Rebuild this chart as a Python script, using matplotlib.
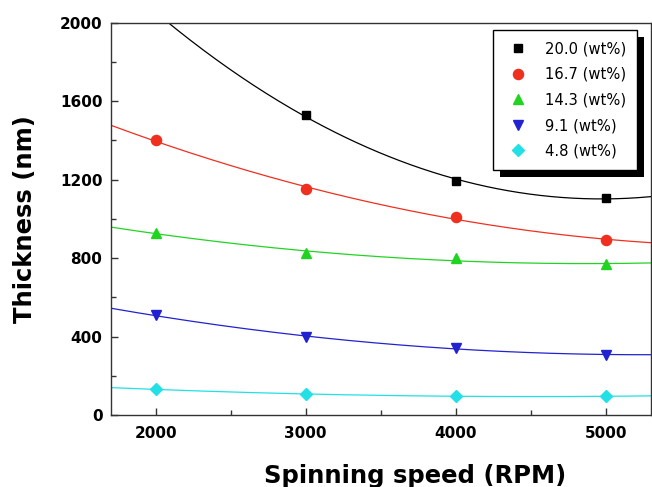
import numpy as np
import matplotlib
matplotlib.use('Agg')
import matplotlib.pyplot as plt
from matplotlib.patches import Rectangle
from matplotlib.ticker import MultipleLocator
from matplotlib.transforms import IdentityTransform

# spinning speed (RPM) and film thickness (nm) per concentration
speed = [2000, 3000, 4000, 5000]
labels = ['20.0 (wt%)', '16.7 (wt%)', '14.3 (wt%)', '9.1 (wt%)', '4.8 (wt%)']
thick_200 = [2050, 1530, 1194, 1105]   # first point lies above the top of the plot
thick_167 = [1400, 1151, 1011, 892]
thick_143 = [929, 824, 799, 768]
thick_91 = [508, 398, 342, 307]
thick_48 = [131, 106, 97, 95]

series = [thick_200, thick_167, thick_143, thick_91, thick_48]
colors = ['black', '#f0301f', '#22d422', '#2222d0', '#22e0e6']
markers = ['s', 'o', '^', 'v', 'D']
msizes = [6.3, 7.3, 7.3, 7.3, 6.3]

plt.rcParams['font.family'] = 'DejaVu Sans'

fig = plt.figure(figsize=(6.52, 4.87), dpi=100)
ax = fig.add_axes([0.1698, 0.1478, 0.8282, 0.8055])

# quadratic fit curve behind each set of points
x_fit = np.linspace(1700, 5300, 300)
for y, c in zip(series, colors):
    coef = np.polyfit(speed, y, 2)
    ax.plot(x_fit, np.polyval(coef, x_fit), color=c, lw=0.9, zorder=2)

for y, c, m, ms, lab in zip(series, colors, markers, msizes, labels):
    ax.plot(speed, y, ls='none', marker=m, ms=ms, color=c, label=lab, zorder=3)

ax.set_xlim(1700, 5300)
ax.set_ylim(0, 2000)
ax.xaxis.set_major_locator(MultipleLocator(1000))
ax.xaxis.set_minor_locator(MultipleLocator(500))
ax.yaxis.set_major_locator(MultipleLocator(400))
ax.yaxis.set_minor_locator(MultipleLocator(200))
ax.tick_params(which='both', direction='in', width=1, color='#333333')
ax.tick_params(which='major', length=5)
ax.tick_params(which='minor', length=3.5)
ax.tick_params(axis='x', pad=8)
ax.tick_params(axis='y', pad=6)
for lab in ax.get_xticklabels() + ax.get_yticklabels():
    lab.set_fontsize(11)
    lab.set_fontweight('bold')
for sp in ax.spines.values():
    sp.set_color('#333333')
    sp.set_linewidth(1.0)

ax.set_xlabel('Spinning speed (RPM)', fontsize=17.5, fontweight='bold')
ax.set_ylabel('Thickness (nm)', fontsize=17.5, fontweight='bold')
ax.xaxis.set_label_coords(0.563, -0.125)
ax.yaxis.set_label_coords(-0.137, 0.5)

leg = ax.legend(loc='upper right', bbox_to_anchor=(0.975, 0.981), borderaxespad=0,
                fontsize=10.6, frameon=True, fancybox=False, framealpha=1,
                borderpad=0.75, handlelength=2.0, handletextpad=0.8,
                labelspacing=0.72)
leg.get_frame().set_edgecolor('black')
leg.get_frame().set_facecolor('white')
leg.get_frame().set_linewidth(1.0)

# solid black drop shadow offset down-right, like the original
fig.canvas.draw()
bb = leg.get_window_extent()
ax.add_patch(Rectangle((bb.x0 + 7, bb.y0 - 7), bb.width, bb.height,
                       transform=IdentityTransform(), facecolor='black',
                       edgecolor='none', zorder=4.9, clip_on=False))
ax.set_xlim(1700, 5300)
ax.set_ylim(0, 2000)

fig.savefig('out.png', dpi=100)
